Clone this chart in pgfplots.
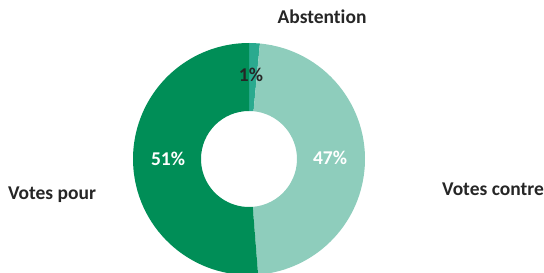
\documentclass[border=0pt]{standalone}
\usepackage{pgfplots}
\pgfplotsset{compat=1.18}
\usepackage{pgfplotstable}
\usepackage{fontspec}
\setmainfont{Carlito}[Ligatures=NoCommon]
\definecolor{pourc}{RGB}{0,142,87}
\definecolor{contrec}{RGB}{142,205,188}
\definecolor{absc}{RGB}{42,170,143}
\definecolor{txt}{RGB}{38,38,38}
\pgfplotstableread{
label value
Abstention 1.5
Contre 47.25
Pour 51.25
}\votes
\begin{document}
\begin{tikzpicture}
\pgfplotstablegetelem{0}{value}\of\votes \pgfmathsetmacro{\vA}{\pgfplotsretval}
\pgfplotstablegetelem{1}{value}\of\votes \pgfmathsetmacro{\vB}{\pgfplotsretval}
\pgfplotstablegetelem{2}{value}\of\votes \pgfmathsetmacro{\vC}{\pgfplotsretval}
\pgfmathsetmacro{\aA}{90}
\pgfmathsetmacro{\aB}{90-3.6*\vA}
\pgfmathsetmacro{\aC}{\aB-3.6*\vB}
\pgfmathsetmacro{\aD}{\aC-3.6*\vC}
\begin{axis}[
  x=1pt, y=1pt,
  xmin=0, xmax=544, ymin=0, ymax=273,
  hide axis,
  clip=true,
]
\path (axis cs:0,0) rectangle (axis cs:544,273);
\fill[absc] (axis cs:249,114) ++(\aA:116pt) arc[start angle=\aA, end angle=\aB, radius=116pt] -- ++(\aB:-68pt) arc[start angle=\aB, end angle=\aA, radius=48pt] -- cycle;
\fill[contrec] (axis cs:249,114) ++(\aB:116pt) arc[start angle=\aB, end angle=\aC, radius=116pt] -- ++(\aC:-68pt) arc[start angle=\aC, end angle=\aB, radius=48pt] -- cycle;
\fill[pourc] (axis cs:249,114) ++(\aC:116pt) arc[start angle=\aC, end angle=\aD, radius=116pt] -- ++(\aD:-68pt) arc[start angle=\aD, end angle=\aC, radius=48pt] -- cycle;
\node[font=\fontsize{19.5}{23}\selectfont\bfseries, text=txt] at (axis cs:322,256) {Abstention};
\node[font=\fontsize{19.5}{23}\selectfont\bfseries, text=txt] at (axis cs:251,198) {1\%};
\node[font=\fontsize{19.5}{23}\selectfont\bfseries, text=white] at (axis cs:168,114) {51\%};
\node[font=\fontsize{19.5}{23}\selectfont\bfseries, text=white] at (axis cs:330,115) {47\%};
\node[font=\fontsize{19.5}{23}\selectfont\bfseries, text=txt] at (axis cs:52,78) {Votes pour};
\node[font=\fontsize{19.5}{23}\selectfont\bfseries, text=txt] at (axis cs:493,84) {Votes contre};
\end{axis}
\end{tikzpicture}
\end{document}
